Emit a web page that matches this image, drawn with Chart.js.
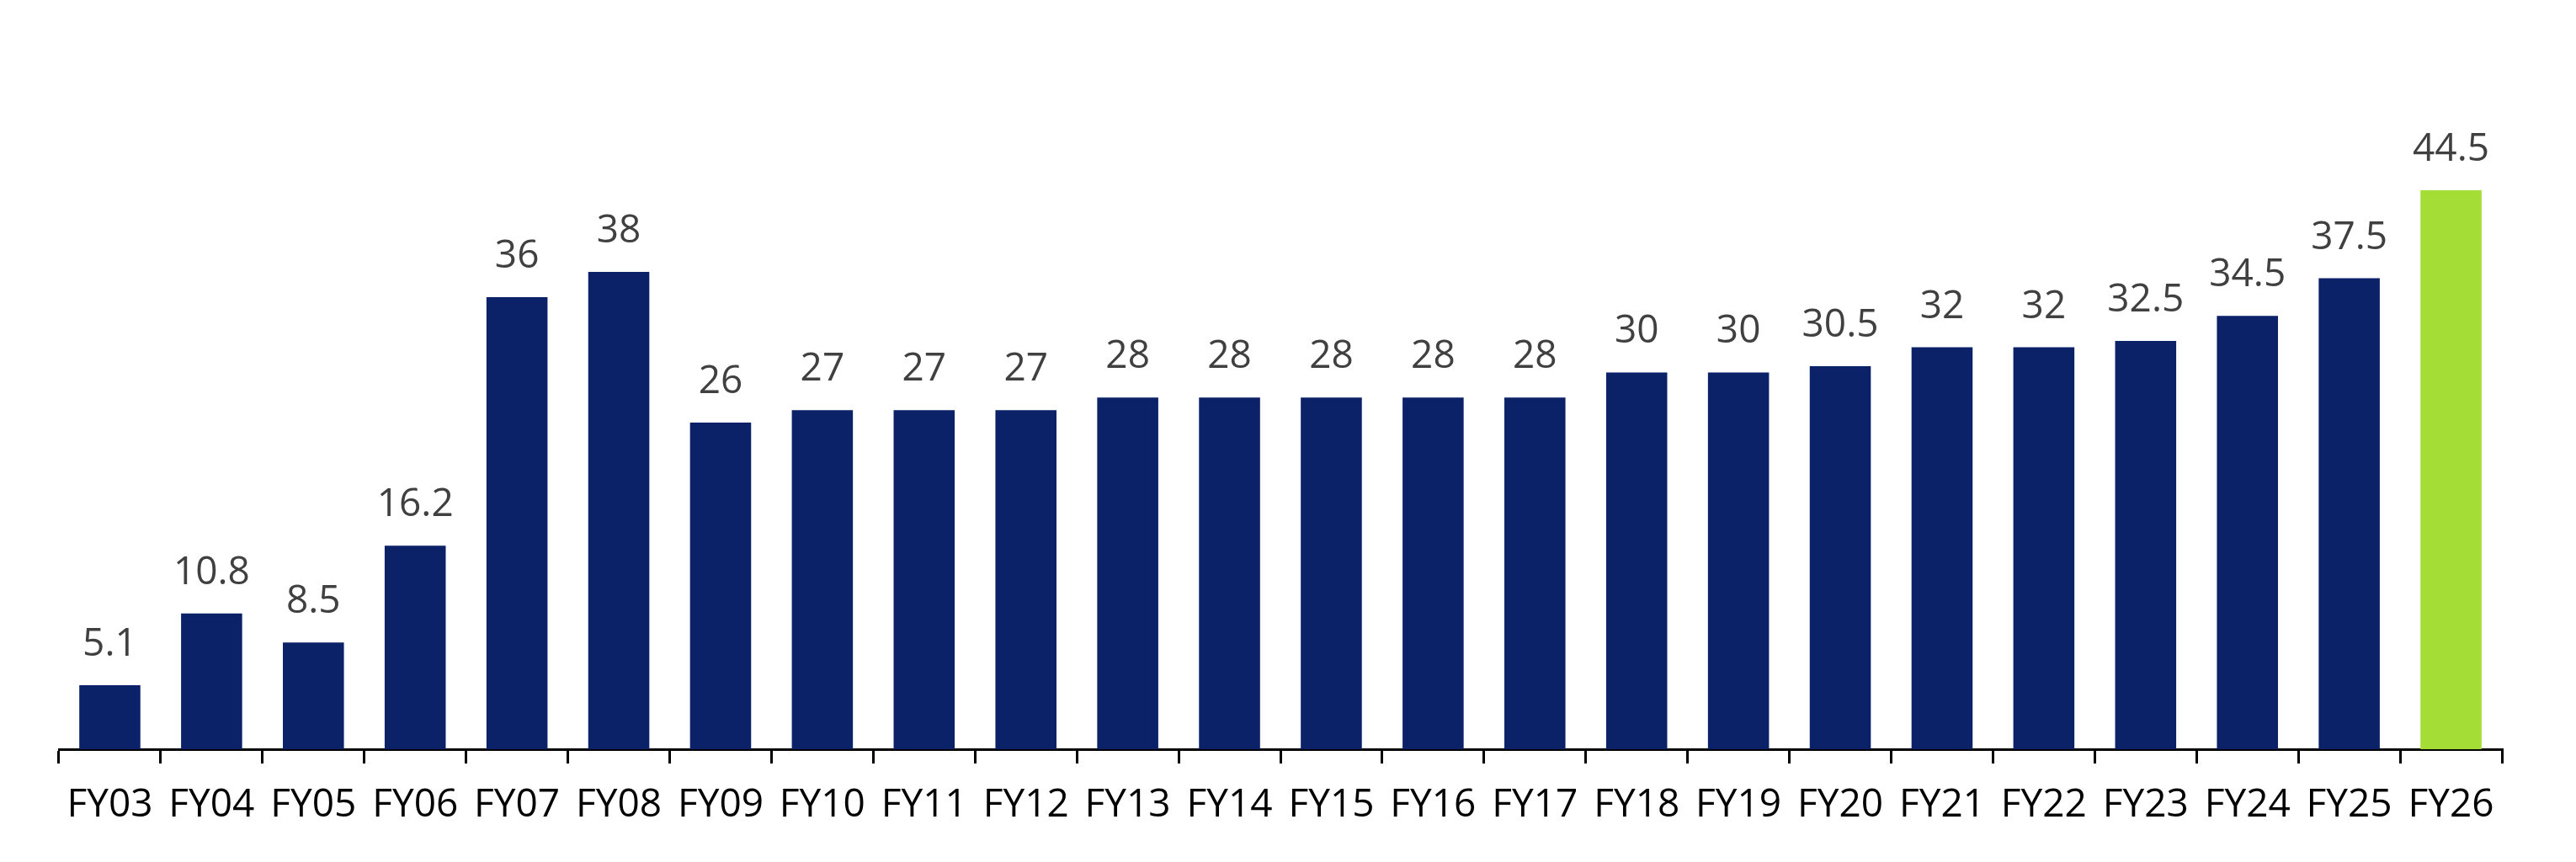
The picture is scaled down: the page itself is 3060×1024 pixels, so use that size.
<!DOCTYPE html>
<html>
<head>
<meta charset="utf-8">
<style>
  html, body { margin: 0; padding: 0; background: #fff; }
  #wrap { width: 3060px; height: 1024px; }
</style>
<script src="https://cdn.jsdelivr.net/npm/chart.js@4.4.1/dist/chart.umd.min.js"></script>
</head>
<body>
<div id="wrap"><canvas id="chart"></canvas></div>
<script>
var labels = ['FY03','FY04','FY05','FY06','FY07','FY08','FY09','FY10','FY11','FY12','FY13','FY14',
              'FY15','FY16','FY17','FY18','FY19','FY20','FY21','FY22','FY23','FY24','FY25','FY26'];
var values = [5.1, 10.8, 8.5, 16.2, 36, 38, 26, 27, 27, 27, 28, 28,
              28, 28, 28, 30, 30, 30.5, 32, 32, 32.5, 34.5, 37.5, 44.5];

var navy = '#0b2269';
var green = '#a4dd36';
var FONT = "'Open Sans', 'DejaVu Sans', sans-serif";

var colors = [];
for (var i = 0; i < values.length; i++) {
  colors.push(i === values.length - 1 ? green : navy);
}

// value labels above every bar
var barLabels = {
  id: 'barLabels',
  afterDatasetsDraw: function(chart) {
    var ctx = chart.ctx;
    var meta = chart.getDatasetMeta(0);
    ctx.save();
    ctx.font = '46px ' + FONT;
    ctx.fillStyle = '#404040';
    ctx.textAlign = 'center';
    ctx.textBaseline = 'alphabetic';
    for (var i = 0; i < meta.data.length; i++) {
      var bar = meta.data[i];
      ctx.fillText(String(values[i]), bar.x, bar.y - 35);
    }
    ctx.restore();
  }
};

var ctx = document.getElementById('chart');
var chart = new Chart(ctx, {
  type: 'bar',
  data: {
    labels: labels,
    datasets: [{
      data: values,
      backgroundColor: colors,
      borderWidth: 0,
      barPercentage: 0.6,
      categoryPercentage: 1.0
    }]
  },
  options: {
    responsive: true,
    maintainAspectRatio: false,
    devicePixelRatio: 1,
    animation: false,
    layout: {
      padding: { left: 70, right: 88, top: 144, bottom: 0 }
    },
    plugins: {
      legend: { display: false },
      tooltip: { enabled: false }
    },
    scales: {
      x: {
        grid: {
          offset: true,
          drawOnChartArea: false,
          drawTicks: true,
          tickLength: 17,
          color: '#000',
          lineWidth: 3
        },
        border: { display: true, color: '#000', width: 3 },
        ticks: {
          color: '#000',
          font: { family: FONT, size: 46 },
          padding: 22,
          maxRotation: 0,
          autoSkip: false
        },
        afterFit: function(axis) { axis.height = 134; }
      },
      y: {
        display: false,
        min: 0,
        max: 50
      }
    }
  },
  plugins: [barLabels]
});
</script>
</body>
</html>
